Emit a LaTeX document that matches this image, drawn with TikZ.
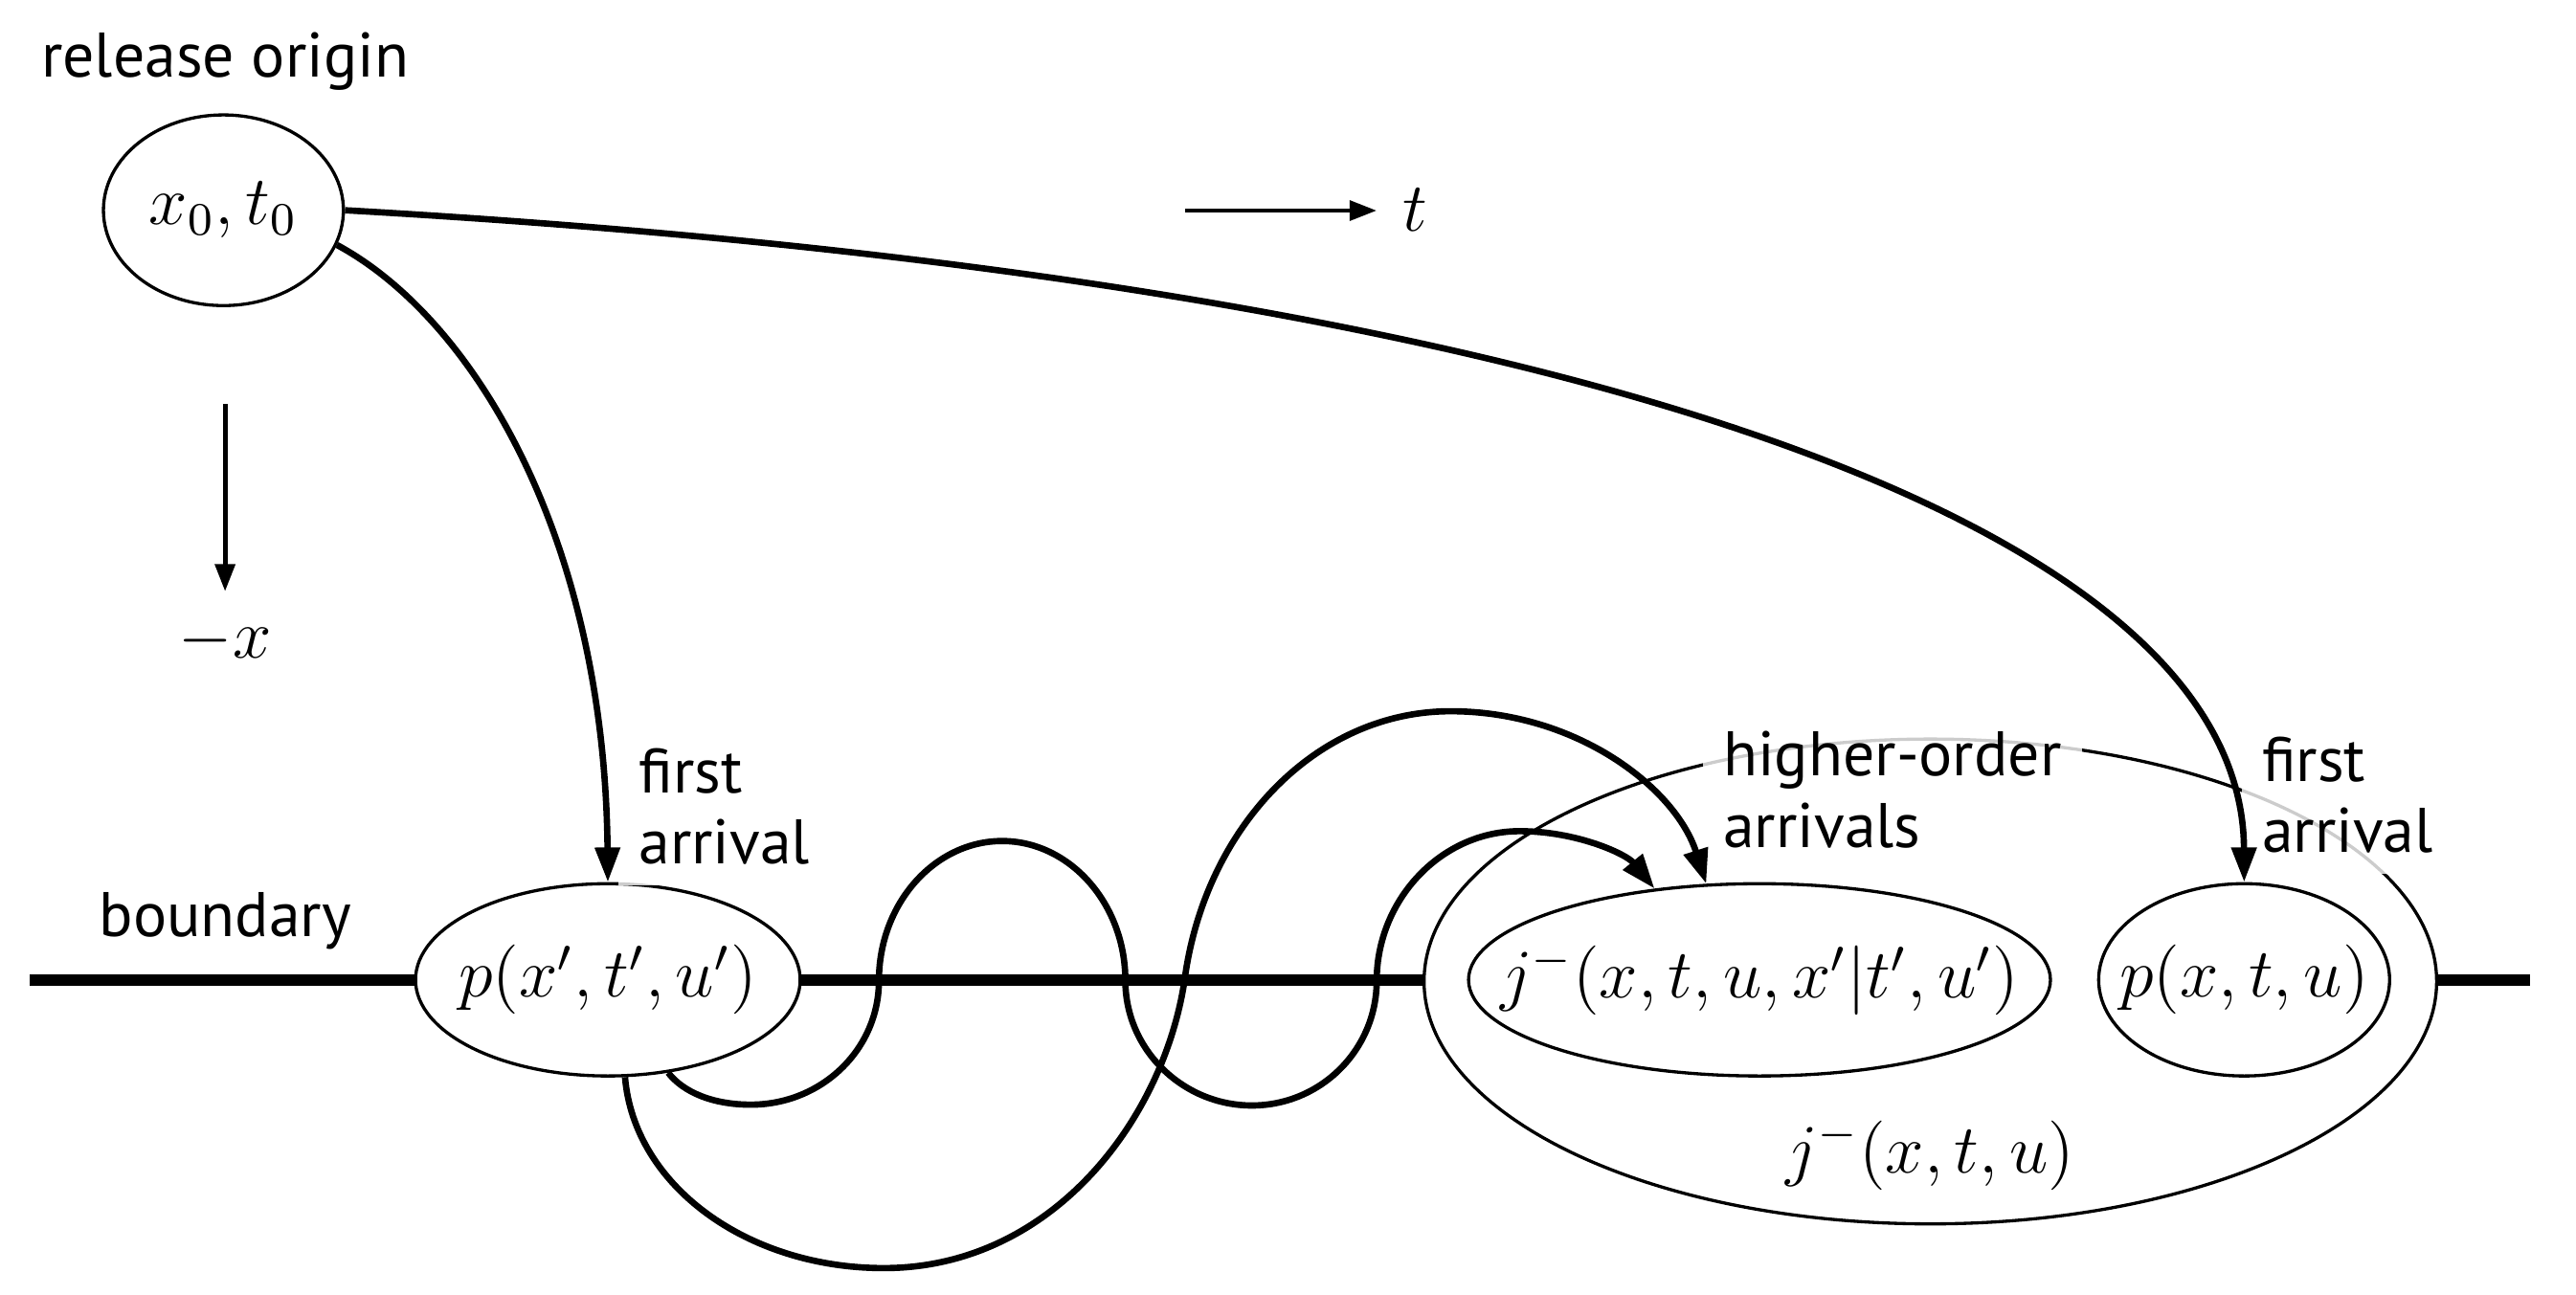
\documentclass[tikz,border=0pt]{standalone}
\usepackage{fontspec}
\newfontfamily\labelfont{PT Sans}
\usetikzlibrary{arrows.meta,shapes.geometric}
\begin{document}
\begin{tikzpicture}[x=0.01cm,y=-0.01cm,
  ell/.style={draw, ellipse, line width=0.55pt, fill=white, inner sep=0pt, font=\fontsize{12}{14}\selectfont},
  lbl/.style={font=\labelfont\fontsize{10.9}{12.4}\selectfont, align=left, inner sep=3.5pt},
  boxlbl/.style={lbl, fill=white, fill opacity=0.8, text opacity=1},
  mathlbl/.style={font=\fontsize{12}{14}\selectfont, inner sep=0pt},
  traj/.style={line width=1.1pt},
  axisarrow/.style={line width=0.8pt, -{Triangle[length=4.7pt,width=3.4pt]}},
  arr/.style={-{Triangle[length=6pt,width=4.2pt]}},
]
\useasboundingbox (0,0) rectangle (1568,788);
% boundary
\coordinate (bL) at (18,596.5);
\coordinate (bR) at (1540,596.5);
\draw[line width=1.95pt] (bL) -- (bR);
\node[lbl, anchor=base] (bnd) at (137,570) {boundary};
% origin
\node[lbl, anchor=base] (rel) at (137,47) {release origin};
\node[ell, minimum width=1.46cm, minimum height=1.16cm] (orig) at (136,128) {\makebox[0pt]{$x_0,t_0$}};
% axes
\coordinate (ta) at (721.5,128.2);
\coordinate (tb) at (838,128.2);
\draw[axisarrow] (ta) -- (tb);
\node[mathlbl, anchor=base west] (tlab) at (853,140.5) {$t$};
\coordinate (xa) at (137,246);
\coordinate (xb) at (137,360);
\draw[axisarrow] (xa) -- (xb);
\node[mathlbl] (xlab) at (137,390) {$-x$};
% boundary ellipses
\node[ell, minimum width=2.34cm, minimum height=1.17cm] (pp) at (370,596.5) {\makebox[0pt]{$p(x',t',u')$}};
\node[ell, minimum width=6.16cm, minimum height=2.95cm] (big) at (1175,597.5) {};
\node[ell, minimum width=3.54cm, minimum height=1.17cm] (jin) at (1071,596.5) {\makebox[0pt]{$j^-(x,t,u,x'|t',u')$}};
\node[ell, minimum width=1.77cm, minimum height=1.17cm] (pxtu) at (1366,596.5) {\makebox[0pt]{$p(x,t,u)$}};
\node[mathlbl] (jlab) at (1175,703) {$j^-(x,t,u)$};
% labels
\node[boxlbl, anchor=west] (fa1) at (376,491) {first\\arrival};
\node[boxlbl, anchor=west] (hoa) at (1036,481) {higher-order\\arrivals};
\node[boxlbl, anchor=west] (fa2) at (1364,484) {first\\arrival};
% first arrivals
\draw[traj, arr] (orig.-17) .. controls (290,195) and (368,330) .. (pp.north);
\draw[traj, arr] (orig.east) .. controls (920,168) and (1365,310) .. (pxtu.north);
% higher-order trajectories
\draw[traj, arr] (pp.-57) .. controls (416,665) and (434,672.5) .. (457,672.5)
  .. controls (500,672.5) and (535,639) .. (535,597)
  .. controls (535,550) and (569,512) .. (610,512)
  .. controls (651,512) and (685,550) .. (685,597)
  .. controls (685,639) and (720,673) .. (762,673)
  .. controls (804,673) and (838,639) .. (838,597)
  .. controls (838,548) and (877,506) .. (925,506)
  .. controls (960,506) and (990,520) .. (jin.139);
\draw[traj, arr] (pp.-80) .. controls (386,722) and (455,772) .. (538,772)
  .. controls (640,772) and (708,682) .. (721,597)
  .. controls (733,505) and (800,433) .. (883,433)
  .. controls (960,433) and (1020,480) .. (jin.119);
\end{tikzpicture}
\end{document}
